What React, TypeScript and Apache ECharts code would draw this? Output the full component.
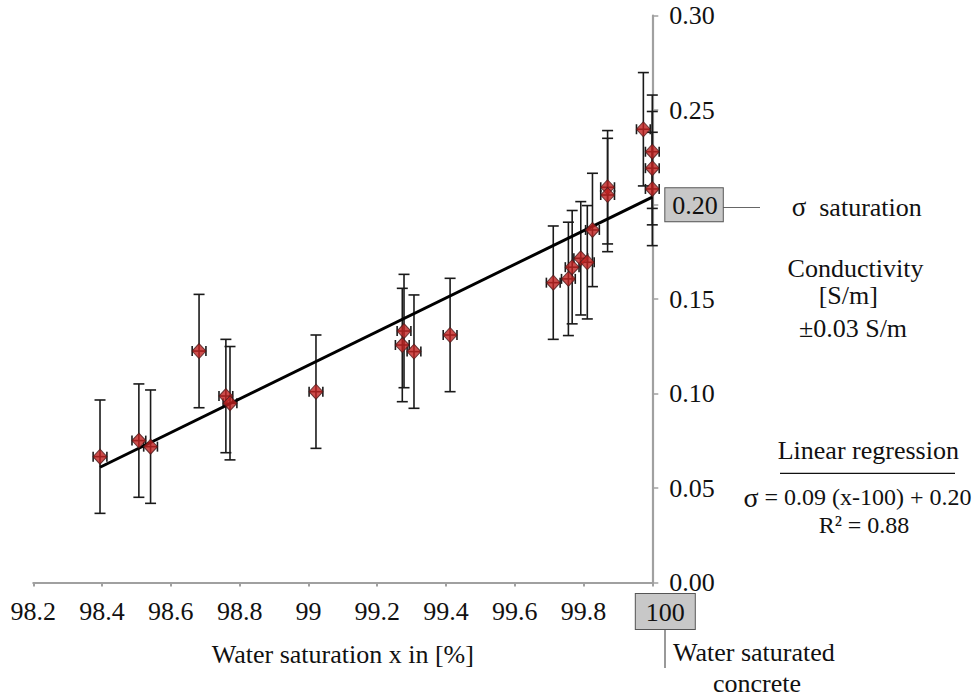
import React, { useEffect, useRef } from "react";
import * as echarts from "echarts";

// Water saturation x in [%]
const X_VALUES = [
  98.394, 98.507, 98.541, 98.682, 98.76, 98.772, 99.022, 99.278, 99.273, 99.307,
  99.412, 99.712, 99.756, 99.767, 99.792, 99.811, 99.826, 99.87, 99.87, 99.974,
  100.0, 100.0, 100.0,
];
// Conductivity [S/m]
const Y_VALUES = [
  0.0666, 0.0751, 0.0719, 0.1225, 0.0987, 0.0949, 0.101, 0.1331, 0.1257, 0.1222,
  0.131, 0.1587, 0.1607, 0.1669, 0.1716, 0.1695, 0.1866, 0.2092, 0.2051, 0.2399,
  0.228, 0.2193, 0.2083,
];
const Y_ERR = 0.03;
const X_ERR = 0.02;
// regression line endpoints
const REG_X = [98.394, 100];
const REG_Y = [0.061, 0.204];

const X_MIN = 98.2;
const X_MAX = 100;
const X_INTERVAL = 0.2;
const Y_MIN = 0;
const Y_MAX = 0.3;
const Y_INTERVAL = 0.05;

const FONT = "Liberation Serif";

export default function App() {
  const ref = useRef<HTMLDivElement>(null);

  useEffect(() => {
    if (!ref.current) return;
    const chart = echarts.init(ref.current, undefined, { renderer: "svg" });
    const points = X_VALUES.map((x, i) => [x, Y_VALUES[i]]);
    const reg = REG_X.map((x, i) => [x, REG_Y[i]]);

    const txt = (text: string, x: number, y: number, align: string, size = 26) => ({
      type: "text",
      x,
      y,
      style: {
        text,
        fontFamily: FONT,
        fontSize: size,
        fill: "#111",
        align,
        verticalAlign: "middle",
      },
    });

    const option: any = {
      animation: false,
      textStyle: { fontFamily: FONT, color: "#111" },
      grid: { left: 33.3, right: 326.7, top: 15.7, bottom: 115.5 },
      xAxis: {
        type: "value",
        min: X_MIN,
        max: X_MAX,
        interval: X_INTERVAL,
        name: "Water saturation x in [%]",
        nameLocation: "middle",
        nameGap: 59,
        nameTextStyle: { fontFamily: FONT, fontSize: 26, color: "#111" },
        axisLine: { show: true, onZero: false, lineStyle: { color: "#a0a0a0", width: 2.2 } },
        axisTick: { show: true, length: 4, lineStyle: { color: "#a0a0a0", width: 2 } },
        splitLine: { show: false },
        axisLabel: {
          fontFamily: FONT,
          fontSize: 26,
          color: "#111",
          margin: 29,
          verticalAlign: "middle",
          formatter: (v: number) => {
            const s = String(parseFloat(v.toFixed(1)));
            return Math.abs(v - 100) < 1e-9 ? `{sp| }{box|${s}}` : s;
          },
          rich: {
            sp: { width: 26, fontSize: 26, fontFamily: FONT },
            box: {
              fontSize: 26,
              fontFamily: FONT,
              color: "#111",
              backgroundColor: "#c8c8c8",
              borderColor: "#555",
              borderWidth: 1,
              padding: [5, 10, 4, 10],
            },
          },
        },
      },
      yAxis: {
        type: "value",
        position: "right",
        min: Y_MIN,
        max: Y_MAX,
        interval: Y_INTERVAL,
        axisLine: { show: true, onZero: false, lineStyle: { color: "#a0a0a0", width: 2.2 } },
        axisTick: { show: true, length: 6, lineStyle: { color: "#a0a0a0", width: 1.5 } },
        splitLine: { show: false },
        axisLabel: {
          margin: 13,
          fontFamily: FONT,
          fontSize: 26,
          color: "#111",
          formatter: (v: number) =>
            Math.abs(v - 0.2) < 1e-9 ? `{box|${v.toFixed(2)}}` : `{n|${v.toFixed(2)}}`,
          rich: {
            n: { fontSize: 26, fontFamily: FONT, color: "#111", padding: [0, 0, 0, 4] },
            box: {
              fontSize: 26,
              fontFamily: FONT,
              color: "#111",
              backgroundColor: "#c8c8c8",
              borderColor: "#555",
              borderWidth: 1,
              padding: [4, 5, 3, 7],
            },
          },
        },
      },
      series: [
        {
          type: "custom",
          z: 1,
          data: points,
          encode: { x: 0, y: 1 },
          renderItem: (_params: any, api: any) => {
            const x = api.value(0);
            const y = api.value(1);
            const top = api.coord([x, y + Y_ERR]);
            const bot = api.coord([x, y - Y_ERR]);
            const left = api.coord([x - X_ERR, y]);
            const right = api.coord([x + X_ERR, y]);
            const cw = 5.5;
            const ch = 5;
            const style = { stroke: "#1a1a1a", lineWidth: 1.6 };
            const ln = (x1: number, y1: number, x2: number, y2: number) => ({
              type: "line",
              shape: { x1, y1, x2, y2 },
              style,
            });
            return {
              type: "group",
              children: [
                ln(top[0], top[1], bot[0], bot[1]),
                ln(top[0] - cw, top[1], top[0] + cw, top[1]),
                ln(bot[0] - cw, bot[1], bot[0] + cw, bot[1]),
                ln(left[0], left[1], right[0], right[1]),
                ln(left[0], left[1] - ch, left[0], left[1] + ch),
                ln(right[0], right[1] - ch, right[0], right[1] + ch),
              ],
            };
          },
        },
        {
          type: "line",
          z: 2,
          data: reg,
          showSymbol: false,
          symbol: "none",
          lineStyle: { color: "#000", width: 3 },
        },
        {
          type: "scatter",
          z: 3,
          data: points,
          symbol: "diamond",
          symbolSize: [14, 15],
          itemStyle: { color: "#c0211f", borderColor: "#4a1c1c", borderWidth: 1 },
        },
      ],
      graphic: [
        {
          type: "line",
          shape: { x1: 722, y1: 207.5, x2: 760, y2: 207.5 },
          style: { stroke: "#666", lineWidth: 1.2 },
        },
        {
          type: "text",
          x: 791.7,
          y: 207,
          style: {
            text: "{s|σ}{t|  saturation}",
            verticalAlign: "middle",
            align: "left",
            rich: {
              s: { fontSize: 27, fontFamily: FONT, fill: "#111" },
              t: { fontSize: 26, fontFamily: FONT, fill: "#111" },
            },
          },
        },
        txt("Conductivity", 855.5, 268, "center"),
        txt("[S/m]", 848.3, 295, "center"),
        txt("±0.03 S/m", 853, 328, "center"),
        txt("Linear regression", 868.3, 450, "center"),
        {
          type: "line",
          shape: { x1: 780, y1: 473.3, x2: 955, y2: 473.3 },
          style: { stroke: "#111", lineWidth: 1.2 },
        },
        {
          type: "text",
          x: 857.5,
          y: 497,
          style: {
            text: "{s|σ}{t| = 0.09 (x-100) + 0.20}",
            align: "center",
            verticalAlign: "middle",
            rich: {
              s: { fontSize: 28, fontFamily: FONT, fill: "#111" },
              t: { fontSize: 24, fontFamily: FONT, fill: "#111" },
            },
          },
        },
        txt("R² = 0.88", 864, 524.5, "center", 24),
        {
          type: "line",
          shape: { x1: 665, y1: 630, x2: 665, y2: 668 },
          style: { stroke: "#777", lineWidth: 1.5 },
        },
        txt("Water saturated", 673, 652.5, "left"),
        txt("concrete", 757, 683, "center"),
      ],
    };

    chart.setOption(option);
    return () => chart.dispose();
  }, []);

  return (
    <div
      ref={ref}
      style={{ position: "fixed", left: 0, top: 0, width: 979, height: 698, background: "#fff" }}
    />
  );
}
